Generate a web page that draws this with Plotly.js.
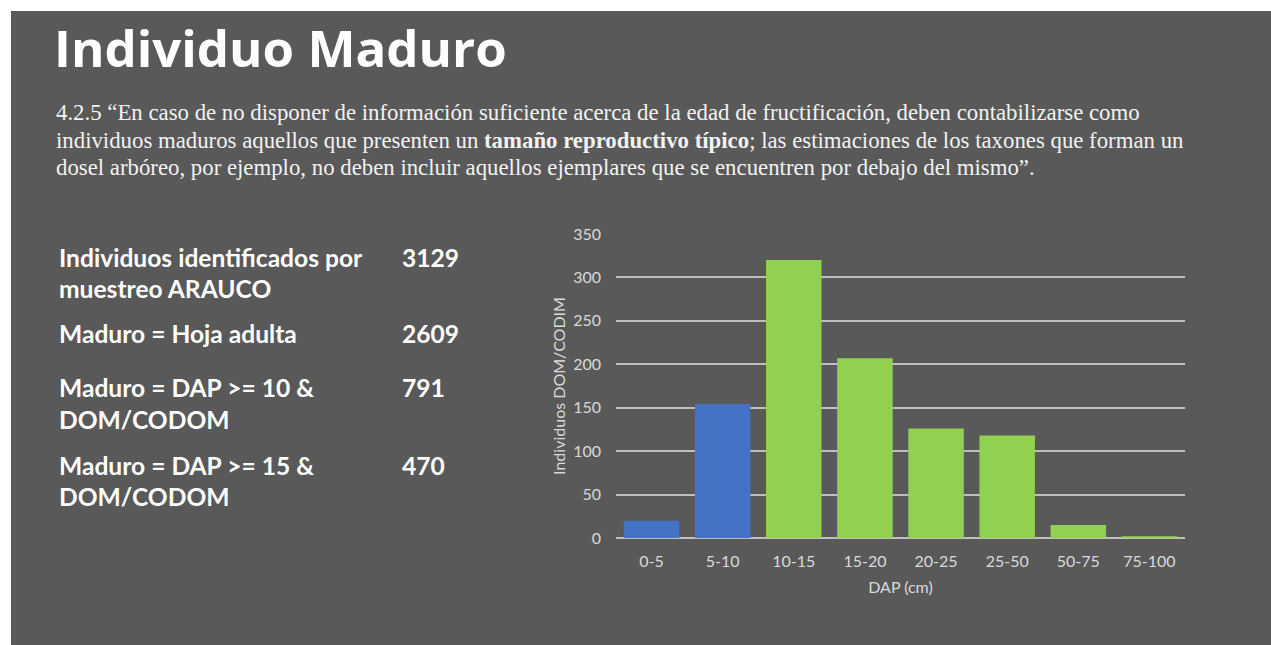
<!DOCTYPE html>
<html>
<head>
<meta charset="utf-8">
<script src="https://cdn.plot.ly/plotly-3.0.1.min.js"></script>
<style>
html,body{margin:0;padding:0;background:#ffffff;width:1271px;height:645px;overflow:hidden;}
#chart{position:absolute;left:11px;top:11px;width:1260px;height:634px;}
</style>
</head>
<body>
<div id="chart"></div>
<script>
// ---- data ----
const categories = ["0-5","5-10","10-15","15-20","20-25","25-50","50-75","75-100"];
const counts = [20, 154, 320, 207, 126, 118, 15, 2];
const barColors = ["#4472C4","#4472C4","#92D050","#92D050","#92D050","#92D050","#92D050","#92D050"];
const yTicks = [0,50,100,150,200,250,300,350];

const slideTitle = "Individuo Maduro";
const quoteLines = [
  "4.2.5 “En caso de no disponer de información suficiente acerca de la edad de fructificación, deben contabilizarse como",
  "individuos maduros aquellos que presenten un <b>tamaño reproductivo típico</b>; las estimaciones de los taxones que forman un",
  "dosel arbóreo, por ejemplo, no deben incluir aquellos ejemplares que se encuentren por debajo del mismo”."
];
const statLabels = [
  ["Individuos identificados por", "muestreo ARAUCO"],
  ["Maduro = Hoja adulta"],
  ["Maduro = DAP >= 10 &", "DOM/CODOM"],
  ["Maduro = DAP >= 15 &", "DOM/CODOM"]
];
const statValues = ["3129", "2609", "791", "470"];

// ---- layout helpers (page pixel -> paper coords) ----
const W = 1260, H = 634, OX = 11, OY = 11;
const plotL = 616, plotR = 1185, plotT = 234, plotB = 538.5;
const margin = {l: plotL - OX, r: W - (plotR - OX), t: plotT - OY, b: H - (plotB - OY), pad: 0};
function px(x){ return (x - plotL) / (plotR - plotL); }
function py(y){ return (plotB - y) / (plotB - plotT); }

const annotations = [];
annotations.push({text: slideTitle, x: px(52), y: py(47), xref:'paper', yref:'paper',
  xanchor:'left', yanchor:'middle', showarrow:false,
  font:{family:'Open Sans, sans-serif', size:51, color:'#ffffff', weight:700}});
const quoteY = [112, 140, 167];
quoteLines.forEach((t,i)=>annotations.push({text:t, x:px(54), y:py(quoteY[i]), xref:'paper', yref:'paper',
  xanchor:'left', yanchor:'middle', showarrow:false,
  font:{family:'Liberation Serif, Times New Roman, serif', size:22.8, color:'#f2f2f2'}}));
const statY = [[258, 289],[334],[388, 420],[466, 497]];
statLabels.forEach((lines,i)=>{
  lines.forEach((t,j)=>annotations.push({text:t, x:px(57), y:py(statY[i][j]), xref:'paper', yref:'paper',
    xanchor:'left', yanchor:'middle', showarrow:false,
    font:{family:'Lato, sans-serif', size:24.6, color:'#ffffff', weight:700}}));
  annotations.push({text:statValues[i], x:px(400), y:py(statY[i][0]), xref:'paper', yref:'paper',
    xanchor:'left', yanchor:'middle', showarrow:false,
    font:{family:'Lato, sans-serif', size:24.6, color:'#ffffff', weight:700}});
});

const trace = {
  type:'bar', x: categories, y: counts,
  marker:{color: barColors, line:{width:0}},
  hoverinfo:'x+y'
};

const axisFont = {family:'Lato, sans-serif', size:16, color:'#d9d9d9'};
const layout = {
  width: W, height: H,
  paper_bgcolor:'#595959', plot_bgcolor:'#595959',
  margin: margin,
  showlegend:false,
  bargap: 0.22,
  xaxis:{
    type:'category', showgrid:false, zeroline:false, showline:false,
    ticks:'', tickfont: axisFont, ticklabelstandoff: 12,
    title:{text:'DAP (cm)', font:axisFont, standoff: 12},
    fixedrange:true
  },
  yaxis:{
    range:[0,350], tickvals: yTicks, ticks:'',
    showgrid:true, gridcolor:'#bfbfbf', gridwidth:2,
    zeroline:true, zerolinecolor:'#bfbfbf', zerolinewidth:2,
    showline:false, tickfont: axisFont, ticklabelstandoff: 14,
    title:{text:'Individuos DOM/CODIM', font:axisFont, standoff: 3},
    fixedrange:true
  },
  annotations: annotations
};

Plotly.newPlot('chart', [trace], layout, {displayModeBar:false, staticPlot:true});
</script>
</body>
</html>
